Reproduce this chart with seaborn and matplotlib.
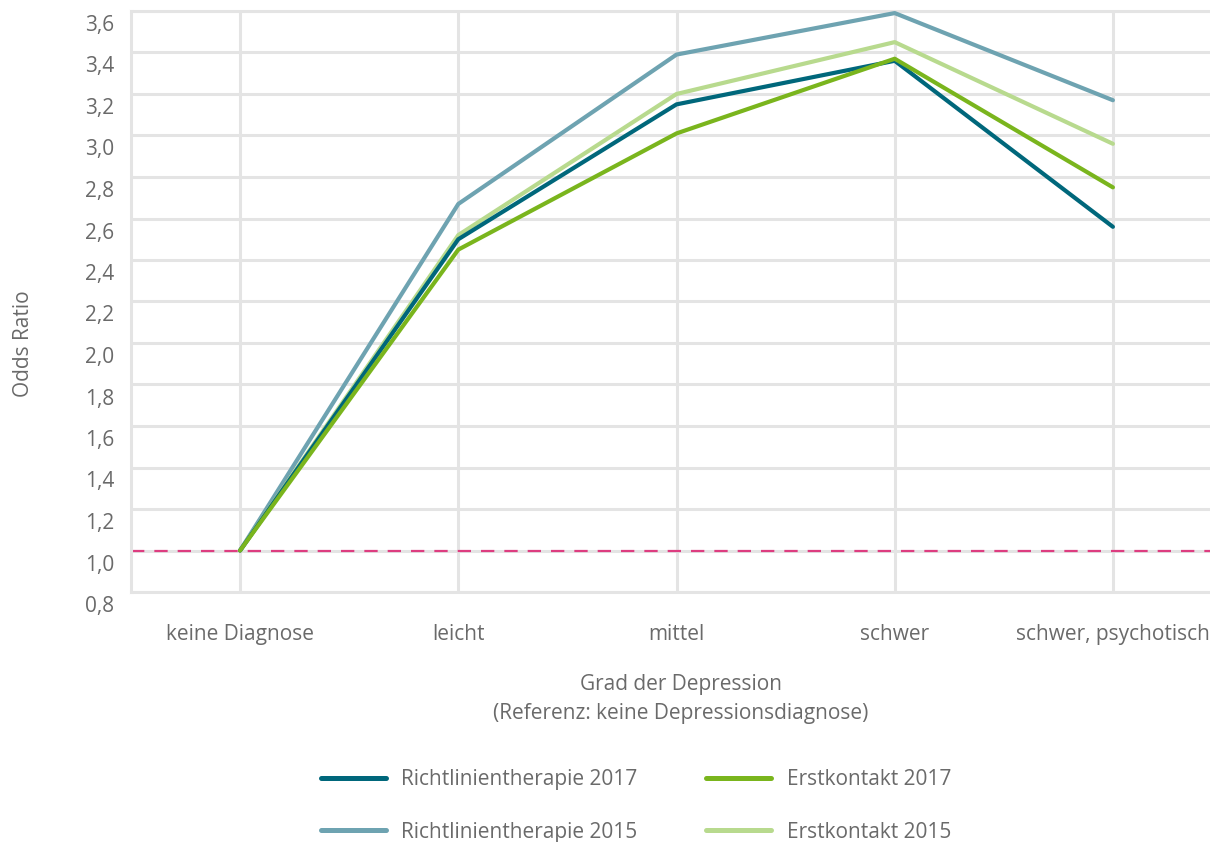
import pandas as pd
import matplotlib
matplotlib.use("Agg")
import matplotlib.pyplot as plt
import matplotlib.transforms as mtransforms
from matplotlib.ticker import FuncFormatter, MultipleLocator
import seaborn as sns

# Daten
categories = ["keine Diagnose", "leicht", "mittel", "schwer", "schwer, psychotisch"]
rl_2015 = [1.0, 2.67, 3.39, 3.59, 3.17]
ek_2015 = [1.0, 2.52, 3.20, 3.45, 2.96]
rl_2017 = [1.0, 2.50, 3.15, 3.36, 2.56]
ek_2017 = [1.0, 2.45, 3.01, 3.37, 2.75]
series_names = ["Richtlinientherapie 2015", "Erstkontakt 2015",
                "Richtlinientherapie 2017", "Erstkontakt 2017"]
series_values = [rl_2015, ek_2015, rl_2017, ek_2017]
colors = {
    "Richtlinientherapie 2017": "#00677b",
    "Richtlinientherapie 2015": "#6ea3b1",
    "Erstkontakt 2017": "#7ab51d",
    "Erstkontakt 2015": "#b8da8e",
}

df = pd.DataFrame([
    {"Grad": c, "OR": v, "Serie": name}
    for name, vals in zip(series_names, series_values)
    for c, v in zip(categories, vals)
])

sns.set_style("white")
plt.rcParams["font.family"] = ["Open Sans", "DejaVu Sans"]
text_col = "#6a6a6a"
grid_col = "#e4e4e4"
fs = 15

fig = plt.figure(figsize=(12.1, 8.42), dpi=100)
ax = fig.add_axes([131 / 1210, 1 - 592 / 842, (1222 - 131) / 1210, (592 - 11) / 842])

ax.axhline(1.0, color="#dd3d80", lw=1.6, ls=(0, (6, 4.5)), zorder=1)
sns.lineplot(data=df, x="Grad", y="OR", hue="Serie", hue_order=series_names,
             palette=colors, linewidth=3.0, sort=False, legend=False, ax=ax, zorder=3)

ax.set_xlim(-0.5, 4.5)
ax.set_ylim(0.8, 3.6)
ax.yaxis.set_major_locator(MultipleLocator(0.2))
ax.yaxis.set_major_formatter(FuncFormatter(lambda v, p: f"{v:.1f}".replace(".", ",")))
ax.grid(True, color=grid_col, lw=2.2, zorder=0)
ax.set_axisbelow(True)
for s in ax.spines.values():
    s.set_color(grid_col)
    s.set_linewidth(2.2)
ax.tick_params(axis="both", length=0, colors=text_col, labelsize=fs)
ax.tick_params(axis="y", pad=12)
ax.tick_params(axis="x", pad=23)
shift = mtransforms.ScaledTranslation(0, -0.12, fig.dpi_scale_trans)
for lab in ax.get_yticklabels():
    lab.set_transform(lab.get_transform() + shift)
ax.set_xlabel("")
ax.set_ylabel("")

fig.text(24 / 1210, 1 - 344 / 842, "Odds Ratio", rotation=90, ha="center", va="center",
         color=text_col, fontsize=fs)
fig.text(681 / 1210, 1 - 699 / 842, "Grad der Depression\n(Referenz: keine Depressionsdiagnose)",
         ha="center", va="center", color=text_col, fontsize=fs, linespacing=1.45)

labels = ["Richtlinientherapie 2017", "Richtlinientherapie 2015", "Erstkontakt 2017", "Erstkontakt 2015"]
handles = [plt.Line2D([], [], color=colors[n], lw=3.6) for n in labels]
leg = fig.legend(handles, labels, ncol=2, loc="center", bbox_to_anchor=(636 / 1210, 1 - 806 / 842),
                 frameon=False, fontsize=fs, handlelength=3.1, handletextpad=0.75,
                 columnspacing=3.3, labelspacing=1.5)
for t in leg.get_texts():
    t.set_color(text_col)

fig.savefig("out.png", dpi=100)
